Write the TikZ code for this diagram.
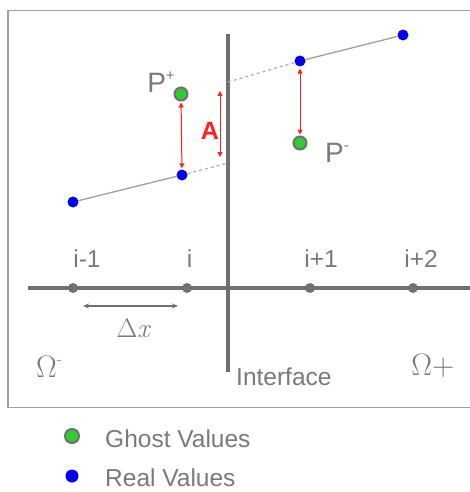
\documentclass[tikz,border=0pt]{standalone}
\usepackage{fontspec}
\setmainfont{Liberation Sans}
\newfontfamily\lmrfont{Latin Modern Roman}
\usetikzlibrary{arrows.meta}
\definecolor{linegray}{HTML}{707070}
\definecolor{framegray}{HTML}{A0A0A0}
\definecolor{txtgray}{HTML}{7A7A7A}
\definecolor{realblue}{HTML}{0000E6}
\definecolor{ghostgreen}{HTML}{2ECC2E}
\definecolor{arrred}{HTML}{FF2020}
\tikzset{
  realdot/.style={circle,fill=realblue,draw=none,minimum size=11pt,inner sep=0pt},
  ghostdot/.style={circle,fill=ghostgreen,draw=linegray,line width=2pt,minimum size=13pt,inner sep=0pt},
  griddot/.style={circle,fill=linegray,draw=none,minimum size=10pt,inner sep=0pt},
  dataline/.style={draw=framegray,line width=1.3pt},
  dashline/.style={draw=framegray!80,line width=1.3pt,dash pattern=on 3pt off 3pt},
  redarr/.style={draw=arrred,line width=1pt,{Triangle[length=5pt,width=5pt]}-{Triangle[length=5pt,width=5pt]}},
  lbl/.style={text=txtgray,font=\fontsize{24.5}{28}\selectfont,inner sep=0pt},
  serlbl/.style={text=txtgray,inner sep=0pt,font=\lmrfont\fontsize{31}{34}\selectfont},
  thick axis/.style={draw=linegray,line width=3.5pt}
}
\begin{document}
\begin{tikzpicture}[x=1pt,y=-1pt]
\clip (0,0) rectangle (470,492);
\fill[white] (0,0) rectangle (470,492);
% frame
\draw[framegray,line width=1.5pt] (8,407.5) -- (8,10.5) -- (480,10.5) -- (480,407.5) -- cycle;
% interface and axis
\coordinate (itop) at (228,34);
\coordinate (ibot) at (228,372);
\coordinate (ax0) at (28,288);
\coordinate (ax1) at (475,288);
\draw[thick axis] (ax0) -- (ax1);
\draw[thick axis] (itop) -- (ibot);
% grid points
\node[griddot] (g1) at (73,288) {};
\node[griddot] (g2) at (187,288) {};
\node[griddot] (g3) at (310,288) {};
\node[griddot] (g4) at (413,288) {};
\node[lbl] (l1) at (87,259) {i-1};
\node[lbl] (l2) at (189.5,259) {i};
\node[lbl] (l3) at (321,259) {i+1};
\node[lbl] (l4) at (421,259) {i+2};
% delta x
\coordinate (dx0) at (83,306);
\coordinate (dx1) at (178,306);
\draw[draw=linegray,line width=1.2pt,{Stealth[length=6pt,width=5pt]}-{Stealth[length=6pt,width=5pt]}] (dx0) -- (dx1);
\node[serlbl,font=\lmrfont\fontsize{27}{30}\selectfont] (dxl) at (133,328) {Δ\itshape x};
% omegas and interface
\node[serlbl] (om) at (49,367) {Ω\raisebox{0.42em}{\fontsize{17}{18}\selectfont -}};
\node[serlbl] (op) at (433,366) {Ω+};
\node[lbl,anchor=west] (intf) at (236,377) {Interface};
% data
\node[realdot] (r1) at (73,202) {};
\node[realdot] (r2) at (182,175) {};
\node[realdot] (r3) at (300,61) {};
\node[realdot] (r4) at (403,35) {};
\node[ghostdot] (pp) at (181,94) {};
\node[ghostdot] (pm) at (300,143) {};
\coordinate (ilow) at (228,163);
\coordinate (ihigh) at (228,82);
\draw[dataline] (r1) -- (r2);
\draw[dashline] (r2) -- (ilow);
\draw[dashline] (ihigh) -- (r3);
\draw[dataline] (r3) -- (r4);
% red arrows
\draw[redarr,shorten <=1pt,shorten >=1pt] (pp) -- (r2);
\draw[redarr,shorten <=2pt,shorten >=1pt] (r3) -- (pm);
\coordinate (a1) at (220,91);
\coordinate (a2) at (220,157);
\draw[redarr] (a1) -- (a2);
\node[text=arrred,inner sep=0pt,font=\bfseries\fontsize{25}{28}\selectfont] (alab) at (210,131) {A};
% P labels
\node[text=txtgray,inner sep=0pt,font=\fontsize{28}{30}\selectfont] (ppl) at (161,82) {P\raisebox{0.45em}{\fontsize{15}{16}\selectfont +}};
\node[text=txtgray,inner sep=0pt,font=\fontsize{28}{30}\selectfont] (pml) at (337,153) {P\raisebox{0.45em}{\fontsize{15}{16}\selectfont -}};
% legend
\node[ghostdot,minimum size=14pt] (lg) at (72,436) {};
\node[realdot,minimum size=13pt] (lr) at (72,476) {};
\node[lbl,anchor=west] (lgt) at (105,439) {Ghost Values};
\node[lbl,anchor=west] (lrt) at (105,478) {Real Values};
\end{tikzpicture}
\end{document}
